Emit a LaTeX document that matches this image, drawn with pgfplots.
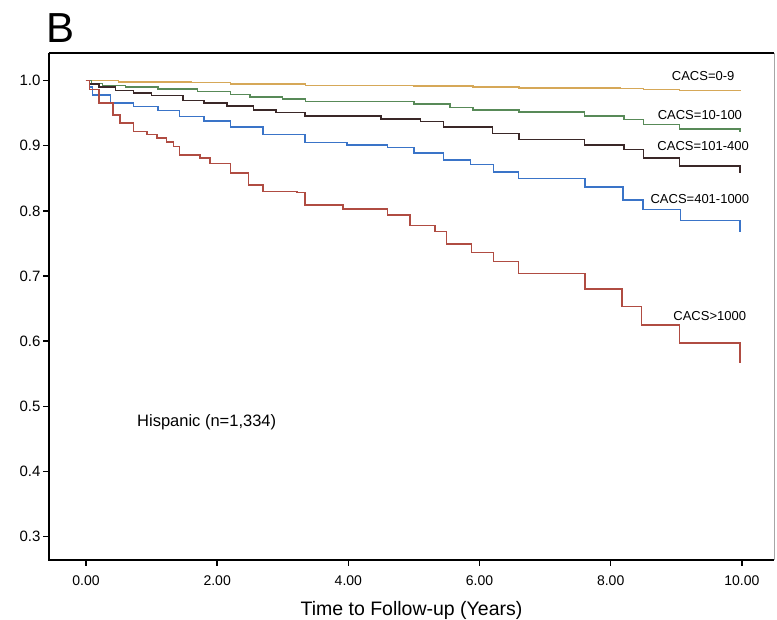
\documentclass[border=0pt]{standalone}
\usepackage{pgfplots}
\pgfplotsset{compat=1.18}
\usepackage{fontspec}
\setmainfont{Liberation Sans}
\definecolor{cyel}{RGB}{214,168,88}
\definecolor{cgrn}{RGB}{88,138,88}
\definecolor{cdrk}{RGB}{58,40,40}
\definecolor{cblu}{RGB}{58,116,200}
\definecolor{cred}{RGB}{176,76,66}
\begin{document}
\begin{tikzpicture}[x=1pt,y=1pt]
\path[use as bounding box] (0,0) rectangle (777,620);
\node[anchor=center,font=\fontsize{42}{42}\selectfont] at (60.5,592) {B};
\begin{axis}[
  at={(49pt,60pt)}, anchor=south west,
  scale only axis, width=725pt, height=507pt,
  xmin=-0.564, xmax=10.49, ymin=0.264, ymax=1.0425,
  axis line style={draw=none},
  xtick={0,2,4,6,8,10}, ytick={0.3,0.4,0.5,0.6,0.7,0.8,0.9,1.0},
  xtick pos=bottom, ytick pos=left,
  tick align=outside, major tick length=6pt,
  tick style={black, line width=1.4pt},
  /pgf/number format/assume math mode=true,
  xticklabel style={/pgf/number format/.cd, fixed, fixed zerofill, precision=2, /tikz/.cd, font=\fontsize{14}{14}\selectfont, yshift=-6pt},
  yticklabel style={/pgf/number format/.cd, fixed, fixed zerofill, precision=1, /tikz/.cd, font=\fontsize{15}{15}\selectfont, xshift=1pt},
  scaled ticks=false,
  xlabel={Time to Follow-up (Years)},
  xlabel style={font=\fontsize{19.5}{19.5}\selectfont, yshift=-9pt},
  clip=false,
  every axis plot/.append style={const plot mark left, line width=1.4pt, mark=none},
]
% CACS=0-9
\addplot[cyel] coordinates {(0,1) (0.5,0.998) (1.6,0.997) (2.2,0.995) (3.35,0.993) (5.0,0.992) (5.9,0.990) (6.6,0.989) (8.15,0.988) (8.5,0.986) (9.05,0.985) (9.97,0.984)};
% CACS=10-100
\addplot[cgrn] coordinates {(0,1) (0.08,0.996) (0.25,0.993) (0.6,0.990) (1.1,0.987) (1.7,0.983) (2.2,0.979) (2.5,0.975) (3.0,0.972) (3.35,0.968) (5.0,0.964) (5.55,0.959) (5.9,0.955) (6.6,0.952) (7.6,0.946) (8.2,0.940) (8.5,0.933) (9.05,0.926) (9.97,0.921)};
% CACS=101-400
\addplot[cdrk] coordinates {(0,1) (0.05,0.995) (0.2,0.990) (0.45,0.985) (0.72,0.981) (1.0,0.977) (1.48,0.970) (1.8,0.966) (2.15,0.961) (2.55,0.955) (2.9,0.951) (3.34,0.946) (4.5,0.941) (5.1,0.937) (5.45,0.929) (6.2,0.919) (6.6,0.910) (7.6,0.901) (8.2,0.894) (8.5,0.881) (9.05,0.869) (9.97,0.858)};
% CACS=401-1000
\addplot[cblu] coordinates {(0,1) (0.05,0.99) (0.1,0.978) (0.37,0.966) (0.72,0.960) (1.1,0.954) (1.43,0.945) (1.8,0.938) (2.2,0.929) (2.7,0.917) (3.34,0.905) (3.98,0.901) (4.6,0.897) (5.0,0.889) (5.45,0.878) (5.86,0.871) (6.21,0.860) (6.59,0.850) (7.61,0.837) (8.19,0.817) (8.49,0.802) (9.06,0.785) (9.97,0.767)};
% CACS>1000
\addplot[cred] coordinates {(0,1) (0.05,0.986) (0.2,0.966) (0.41,0.947) (0.52,0.935) (0.72,0.922) (0.93,0.917) (1.08,0.912) (1.23,0.906) (1.33,0.899) (1.43,0.886) (1.74,0.881) (1.89,0.873) (2.2,0.858) (2.48,0.840) (2.7,0.830) (3.22,0.828) (3.34,0.809) (3.92,0.803) (4.6,0.794) (4.94,0.778) (5.32,0.768) (5.5,0.749) (5.88,0.736) (6.21,0.722) (6.59,0.704) (7.61,0.680) (8.17,0.653) (8.47,0.625) (9.05,0.597) (9.97,0.566)};
% frame
\draw[black, line width=1.6pt] (rel axis cs:0,1) -- (rel axis cs:0,0) -- (rel axis cs:1,0);
\draw[black, line width=1.6pt] (rel axis cs:0,1) -- (rel axis cs:1,1);
\draw[gray!70, line width=0.6pt] (rel axis cs:1,0) -- (rel axis cs:1,1);
% labels
\node[font=\fontsize{13}{13}\selectfont] at (axis cs:9.41,1.0075) {CACS=0-9};
\node[font=\fontsize{13}{13}\selectfont] at (axis cs:9.36,0.947) {CACS=10-100};
\node[font=\fontsize{13}{13}\selectfont] at (axis cs:9.41,0.900) {CACS=101-400};
\node[font=\fontsize{13}{13}\selectfont] at (axis cs:9.36,0.818) {CACS=401-1000};
\node[font=\fontsize{13}{13}\selectfont] at (axis cs:9.51,0.639) {CACS>1000};
\node[font=\fontsize{16.5}{16.5}\selectfont] at (axis cs:1.84,0.475) {Hispanic (n=1,334)};
\end{axis}
\end{tikzpicture}
\end{document}
